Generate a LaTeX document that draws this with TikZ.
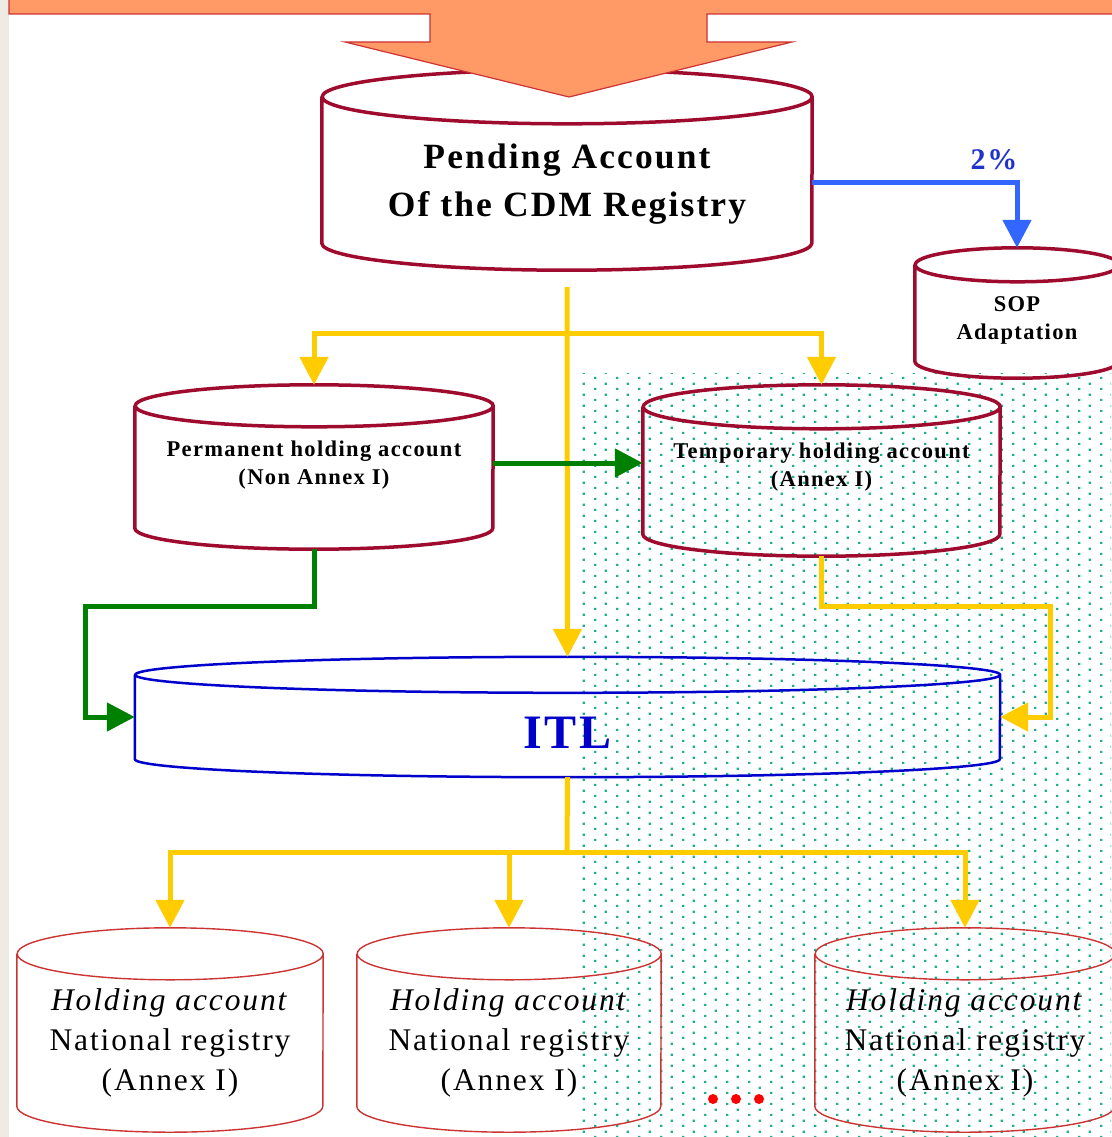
\documentclass[tikz,border=0pt]{standalone}
\usepackage{fontspec}
\setmainfont{Liberation Serif}[LetterSpace=6]
\usetikzlibrary{arrows.meta,patterns}

\definecolor{drumred}{RGB}{158,11,46}
\definecolor{thinred}{RGB}{204,51,51}
\definecolor{itlblue}{RGB}{0,0,204}
\definecolor{sharetext}{RGB}{34,51,204}
\definecolor{flowyellow}{RGB}{255,204,0}
\definecolor{flowgreen}{RGB}{0,128,0}
\definecolor{flowblue}{RGB}{51,102,255}
\definecolor{bandorange}{RGB}{255,153,102}
\definecolor{dotteal}{RGB}{30,175,140}
\definecolor{stripbeige}{RGB}{239,235,228}

\pgfdeclarepatternformonly{tealdots}{\pgfqpoint{0pt}{0pt}}{\pgfqpoint{22pt}{11pt}}{\pgfqpoint{22pt}{11pt}}{%
  \pgfpathrectangle{\pgfqpoint{0pt}{0pt}}{\pgfqpoint{2.4pt}{2.4pt}}%
  \pgfpathrectangle{\pgfqpoint{11pt}{5.5pt}}{\pgfqpoint{2.4pt}{2.4pt}}%
  \pgfusepath{fill}}

% outline of a drum round a named box: [style]{name}{x radius}{y radius}
\newcommand{\drum}[4][]{%
  \draw[#1] ([yshift=-#4]#2.north west) -- ([yshift=#4]#2.south west)
    arc[start angle=180, end angle=360, x radius=#3, y radius=#4]
    -- ([yshift=-#4]#2.north east)
    arc[start angle=0, end angle=180, x radius=#3, y radius=#4]
    arc[start angle=180, end angle=360, x radius=#3, y radius=#4];}

\tikzset{
  drumbox/.style={inner sep=0pt, draw=none},
  redrum/.style={draw=drumred, line width=3.5pt},
  bluedrum/.style={draw=itlblue, line width=2.5pt},
  thindrum/.style={draw=thinred, line width=1.4pt},
  flowtip/.style={-{Triangle[width=28pt,length=28pt]}},
  yellowflow/.style={draw=flowyellow, line width=5pt},
  greenflow/.style={draw=flowgreen, line width=5pt},
  blueflow/.style={draw=flowblue, line width=5pt},
  bigbold/.style={font=\fontsize{35.5}{48}\selectfont\bfseries, align=center},
  smallbold/.style={font=\fontsize{22.5}{28}\selectfont\bfseries, align=center},
  holdtext/.style={font=\fontsize{31.5}{40}\selectfont, align=center}
}

\begin{document}
\begin{tikzpicture}[x=1pt,y=-1pt]
  \useasboundingbox (0,0) rectangle (1111,1137);
  \fill[white] (0,0) rectangle (1111,1137);
  \fill[stripbeige] (0,0) rectangle (9,1137);

  %%%%% dotted field %%%%%
  \fill[pattern=tealdots, pattern color=dotteal] (575,373) rectangle (1111,1137);

  %%%%% drums %%%%%
  \node[drumbox, minimum width=490pt, minimum height=200pt] (pending) at (567,170) {};
  \drum[redrum]{pending}{245pt}{27pt}
  \node[bigbold] (pendtxt) at (567,184) {Pending Account\\Of the CDM Registry};

  \node[drumbox, minimum width=204pt, minimum height=130pt] (sop) at (1017,313) {};
  \drum[redrum]{sop}{102pt}{17pt}
  \node[smallbold] (soptxt) at (1017,320) {SOP\\Adaptation};

  \node[drumbox, minimum width=358pt, minimum height=164pt] (perm) at (314,467) {};
  \drum[redrum]{perm}{179pt}{21pt}
  \node[smallbold] (permtxt) at (314,465) {Permanent holding account\\(Non Annex I)};

  \node[drumbox, minimum width=357pt, minimum height=171pt] (temp) at (821.5,470.5) {};
  \drum[redrum]{temp}{178.5pt}{22pt}
  \node[smallbold] (temptxt) at (821.5,467) {Temporary holding account\\(Annex I)};

  \node[drumbox, minimum width=865pt, minimum height=120pt] (itl) at (567.5,717) {};
  \drum[bluedrum]{itl}{432.5pt}{18pt}
  \node[font=\fontsize{48}{58}\selectfont\bfseries, text=itlblue] (itltxt) at (567.5,733) {ITL};

  \node[drumbox, minimum width=306pt, minimum height=204pt] (hold1) at (170,1030) {};
  \node[drumbox, minimum width=304pt, minimum height=204pt] (hold2) at (509,1030) {};
  \node[drumbox, minimum width=300pt, minimum height=204pt] (hold3) at (965,1030) {};
  \drum[thindrum]{hold1}{153pt}{26pt}
  \drum[thindrum]{hold2}{152pt}{26pt}
  \drum[thindrum]{hold3}{150pt}{26pt}
  \foreach \h/\x in {hold1/170, hold2/509, hold3/965}
    \node[holdtext] (\h txt) at (\x,1043) {\textit{Holding account}\\National registry\\(Annex I)};

  \foreach \x in {713,736,759}
    \fill[red] (\x,1099) circle (5pt);

  %%%%% flows %%%%%
  \coordinate (fork) at (567,333);
  \coordinate (split) at (567,852);
  \coordinate (gbend) at (85,606);
  \coordinate (ybend) at (1050,606);

  \draw[blueflow, flowtip] ([yshift=-12pt]pending.east) -| (sop.north);
  \node[font=\fontsize{30}{34}\selectfont\bfseries, text=sharetext] (share) at (994,160) {2\%};

  \draw[yellowflow, flowtip] ([yshift=-17pt]pending.south) -- (itl.north);
  \draw[yellowflow, flowtip] (fork) -| (perm.north);
  \draw[yellowflow, flowtip] (fork) -| (temp.north);

  \draw[greenflow, flowtip] ([yshift=4pt]perm.east) -- ([yshift=4pt]perm.east -| temp.west);
  \draw[greenflow, flowtip] (perm.south) |- (gbend) |- (itl.west);
  \draw[yellowflow, flowtip] (temp.south) |- (ybend) |- (itl.east);

  \draw[yellowflow] (itl.south) -- (split);
  \foreach \h in {hold1,hold2,hold3}
    \draw[yellowflow, flowtip] (split) -| (\h.north);

  %%%%% big arrow on top %%%%%
  \draw[draw=thinred, line width=1.2pt, fill=bandorange]
    (9,-5) -- (1116,-5) -- (1116,14) -- (707,14) -- (707,42) -- (792,42)
    -- (569,97) -- (345,42) -- (430,42) -- (430,14) -- (9,14) -- cycle;
\end{tikzpicture}
\end{document}
